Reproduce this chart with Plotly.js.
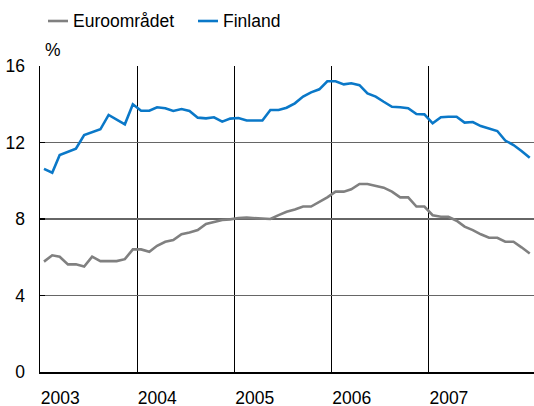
<!DOCTYPE html>
<html>
<head>
<meta charset="utf-8">
<script src="https://cdn.plot.ly/plotly-3.0.1.min.js"></script>
<style>
  html, body { margin: 0; padding: 0; background: #fff; }
  #chart { width: 534px; height: 406px; }
</style>
</head>
<body>
<div id="chart"></div>
<script>
// Months Jan 2003 .. Jan 2008 (61 monthly observations)
var months = [];
for (var y = 2003; y <= 2008; y++) {
  for (var m = 1; m <= 12; m++) {
    if (y === 2008 && m > 1) break;
    months.push(y + '-' + (m < 10 ? '0' + m : m) + '-16');
  }
}

var seriesNames = ['Euroområdet', 'Finland'];

var euroArea = [
  5.77, 6.10, 6.03, 5.63, 5.63, 5.51, 6.03, 5.80, 5.80, 5.80, 5.90, 6.41,
  6.41, 6.29, 6.60, 6.81, 6.90, 7.20, 7.30, 7.42, 7.74, 7.84, 7.95, 7.98,
  8.05, 8.07, 8.05, 8.00, 8.00, 8.20, 8.38, 8.50, 8.65, 8.65, 8.90, 9.13,
  9.43, 9.43, 9.55, 9.83, 9.83, 9.74, 9.64, 9.43, 9.13, 9.13, 8.65, 8.65,
  8.20, 8.12, 8.12, 7.91, 7.60, 7.42, 7.20, 7.02, 7.02, 6.81, 6.81, 6.52,
  6.20
];

var finland = [
  10.62, 10.42, 11.35, 11.50, 11.68, 12.39, 12.55, 12.69, 13.44, 13.20, 12.95, 14.00,
  13.66, 13.66, 13.84, 13.79, 13.65, 13.75, 13.65, 13.30, 13.26, 13.32, 13.09, 13.25,
  13.28, 13.15, 13.15, 13.15, 13.70, 13.70, 13.82, 14.05, 14.40, 14.62, 14.78, 15.20,
  15.20, 15.04, 15.10, 15.00, 14.57, 14.40, 14.13, 13.87, 13.84, 13.79, 13.49, 13.47,
  13.00, 13.32, 13.35, 13.35, 13.04, 13.07, 12.86, 12.74, 12.60, 12.10, 11.87, 11.56,
  11.20
];

var yTicks = [0, 4, 8, 12, 16];
var xTickLabels = ['2003', '2004', '2005', '2006', '2007'];
var xTickVals = ['2003-01-01', '2004-01-01', '2005-01-01', '2006-01-01', '2007-01-01'];

var colors = ['#808080', '#0a78c8'];
var FONT = 'Liberation Sans, Arial, sans-serif';
var FS = 17.5;

var traces = [
  { x: months, y: euroArea, name: seriesNames[0], type: 'scatter', mode: 'lines',
    line: { color: colors[0], width: 2.6 }, hoverinfo: 'skip' },
  { x: months, y: finland, name: seriesNames[1], type: 'scatter', mode: 'lines',
    line: { color: colors[1], width: 2.6 }, hoverinfo: 'skip' }
];

// px helpers for paper coordinates (plot area: x 40..534, y 66..372)
var L = 40, R = 534, T = 66, B = 372;
function px(x) { return (x - L) / (R - L); }
function py(y) { return (B - y) / (B - T); }

var legendY = 21;
var shapes = [
  { type: 'line', xref: 'paper', yref: 'paper', x0: px(48), x1: px(68), y0: py(legendY), y1: py(legendY),
    line: { color: colors[0], width: 2.6 } },
  { type: 'line', xref: 'paper', yref: 'paper', x0: px(198), x1: px(218), y0: py(legendY), y1: py(legendY),
    line: { color: colors[1], width: 2.6 } }
];

var annotations = [
  { text: seriesNames[0], xref: 'paper', yref: 'paper', x: px(71), y: py(legendY), xanchor: 'left', yanchor: 'middle',
    showarrow: false, font: { family: FONT, size: FS, color: '#000' } },
  { text: seriesNames[1], xref: 'paper', yref: 'paper', x: px(221), y: py(legendY), xanchor: 'left', yanchor: 'middle',
    showarrow: false, font: { family: FONT, size: FS, color: '#000' } },
  { text: '%', xref: 'paper', yref: 'paper', x: px(43), y: py(50), xanchor: 'left', yanchor: 'middle',
    showarrow: false, font: { family: FONT, size: FS, color: '#000' } }
];

var layout = {
  width: 534, height: 406,
  margin: { l: L, r: 534 - R, t: T, b: 406 - B, pad: 0 },
  paper_bgcolor: '#fff', plot_bgcolor: '#fff',
  showlegend: false,
  font: { family: FONT, size: FS, color: '#000' },
  xaxis: {
    type: 'date',
    range: ['2003-01-01', '2008-02-01'],
    tickvals: xTickVals,
    ticktext: xTickLabels,
    showgrid: true, gridcolor: '#000', gridwidth: 1,
    showline: true, linecolor: '#000', linewidth: 1.5,
    ticks: '', zeroline: false,
    ticklabelposition: 'outside right',
    ticklabelstandoff: 9,
    tickfont: { family: FONT, size: FS, color: '#000' },
    fixedrange: true
  },
  yaxis: {
    range: [0, 16],
    tickvals: yTicks,
    showgrid: true, gridcolor: '#666', gridwidth: 1.3,
    showline: true, linecolor: '#000', linewidth: 1.5,
    ticks: 'inside', ticklen: 5, tickcolor: '#000', tickwidth: 1.5,
    zeroline: false,
    ticklabelstandoff: 10,
    tickfont: { family: FONT, size: FS, color: '#000' },
    fixedrange: true
  },
  shapes: shapes,
  annotations: annotations
};

Plotly.newPlot('chart', traces, layout, { staticPlot: true, displayModeBar: false });
</script>
</body>
</html>
